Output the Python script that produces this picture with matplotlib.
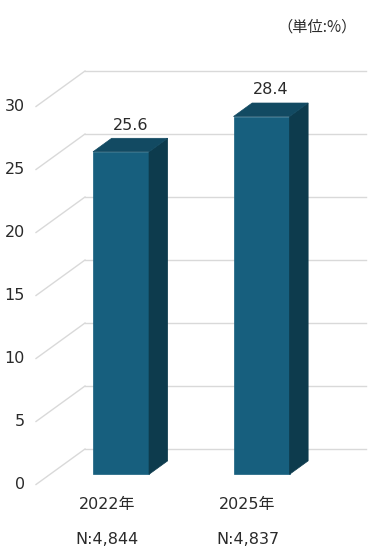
import matplotlib.pyplot as plt
from matplotlib.patches import Polygon

plt.rcParams['font.family'] = ['DejaVu Sans', 'Noto Sans CJK JP']

years = ['2022年', '2025年']
samples = ['N:4,844', 'N:4,837']
values = [25.6, 28.4]
yticks = [0, 5, 10, 15, 20, 25, 30]

# layout: x in pixels, y in percent
px_per_unit = 12.6
y0_px = 484.5
cat_x = [107, 247.5]
bar_w = 56
depth_dx = 49.0                 # full floor depth, pixels
depth_dy = 35.5 / px_per_unit   # full floor depth, value units
bar_d0, bar_d1 = 0.286, 0.666   # bar depth range as a fraction of the floor
grid_x0, grid_x1 = 36, 366

front = '#175f7e'
top = '#124a62'
side = '#0d3b4d'
grid = '#d9d9d9'
txt = '#2a2a2a'

fig = plt.figure(figsize=(3.91, 5.57), dpi=100)
ax = fig.add_axes([0, 0, 1, 1])
ax.set_xlim(0, 391)
ax.set_ylim((y0_px - 557) / px_per_unit, y0_px / px_per_unit)
ax.axis('off')

# grid: diagonals on the left wall + horizontal lines on the back wall
for t in yticks:
    ax.plot([grid_x0, grid_x0 + depth_dx], [t, t + depth_dy], color=grid, lw=1, zorder=1)
    ax.plot([grid_x0 + depth_dx, grid_x1], [t + depth_dy, t + depth_dy], color=grid, lw=1, zorder=1)
    ax.text(25, t, str(t), ha='right', va='center', fontsize=11.5, color=txt)

# 3d bars
fx = depth_dx * bar_d0
fy = depth_dy * bar_d0
ddx = depth_dx * (bar_d1 - bar_d0)
ddy = depth_dy * (bar_d1 - bar_d0)
xs = [c + fx for c in cat_x]
ax.bar(xs, values, width=bar_w, bottom=fy, color=front, edgecolor=front, lw=0.5, zorder=3)
for x, v in zip(xs, values):
    xl, xr = x - bar_w / 2, x + bar_w / 2
    yb, yt = fy, fy + v
    ax.add_patch(Polygon([(xr, yb), (xr + ddx, yb + ddy), (xr + ddx, yt + ddy), (xr, yt)],
                         closed=True, facecolor=side, edgecolor=side, lw=0.5, zorder=3))
    ax.add_patch(Polygon([(xl, yt), (xr, yt), (xr + ddx, yt + ddy), (xl + ddx, yt + ddy)],
                         closed=True, facecolor=top, edgecolor=top, lw=0.5, zorder=3))
    ax.text(x + ddx / 2, yt + ddy + 1.05, f'{v:.1f}', ha='center', va='center',
            fontsize=11.5, color=txt)

for c, yl, n in zip(cat_x, years, samples):
    ax.text(c, -1.55, yl, ha='center', va='center', fontsize=11.5, color=txt)
    ax.text(c, -4.4, n, ha='center', va='center', fontsize=11.5, color=txt)

ax.text(357, (y0_px - 27) / px_per_unit, '（単位:%）', ha='right', va='center',
        fontsize=11, color=txt, family=['Noto Sans CJK JP', 'DejaVu Sans'])

fig.savefig('out.png', dpi=100)
